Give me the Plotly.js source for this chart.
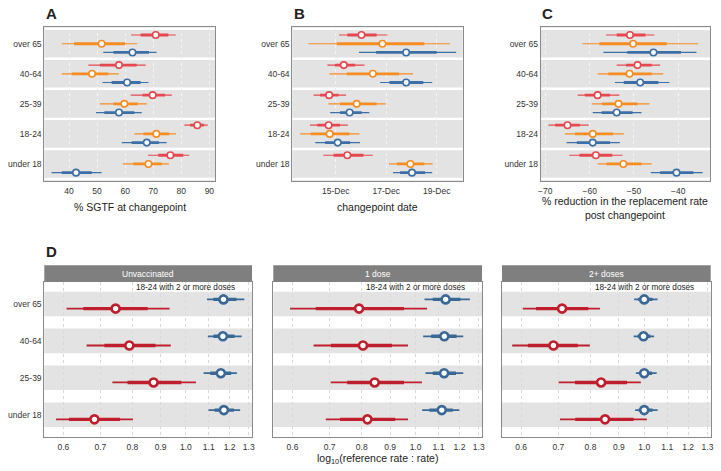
<!DOCTYPE html>
<html><head><meta charset="utf-8">
<script src="https://cdn.plot.ly/plotly-3.0.1.min.js"></script>
<style>html,body{margin:0;padding:0;background:#fff}#chart{width:721px;height:471px}</style>
</head><body><div id="chart"></div>
<script>
// ---------- DATA ----------
// rows: [lower95, lower50, median, upper50, upper95]
const agesTop = ["over 65","40-64","25-39","18-24","under 18"];

const sgtfRed    = [[62.1,65.5,70.9,75.4,78.0],[46.9,51.0,57.8,64.1,67.3],[62.0,66.2,69.8,74.2,76.6],[81.1,83.1,85.7,88.1,89.4],[68.1,71.8,76.1,80.7,82.8]];
const sgtfOrange = [[37.4,41.8,51.6,60.0,64.3],[37.4,41.0,48.2,54.0,57.8],[51.0,55.8,59.7,64.5,67.7],[63.3,66.5,71.1,75.7,78.1],[59.1,62.9,68.3,73.0,75.6]];
const sgtfBlue   = [[52.2,55.8,62.6,68.5,71.2],[51.9,55.2,60.7,65.5,68.3],[49.6,52.6,57.8,63.3,65.9],[58.8,62.3,67.7,72.1,74.8],[33.8,37.4,42.5,48.1,51.6]];
const sgtfTicks  = [40,50,60,70,80,90];

// changepoint date, as day of December
const dateRed    = [[15.13,15.46,16.02,16.62,17.05],[14.67,14.97,15.32,15.77,16.14],[14.12,14.38,14.74,15.11,15.41],[13.98,14.27,14.72,15.17,15.48],[14.51,14.91,15.46,16.10,16.47]];
const dateOrange = [[13.92,15.04,16.85,18.51,19.53],[14.75,15.44,16.47,17.51,18.06],[14.71,15.17,15.83,16.62,16.98],[13.59,14.01,14.76,15.54,15.94],[17.11,17.42,17.96,18.51,18.84]];
const dateBlue   = [[15.92,16.60,17.79,19.00,19.77],[16.76,17.13,17.79,18.47,18.82],[14.78,15.17,15.55,16.03,16.33],[14.19,14.58,15.08,15.57,15.96],[17.27,17.55,18.02,18.54,18.82]];
const dateTickVals = [15,17,19];
const dateTickText = ["15-Dec","17-Dec","19-Dec"];

const redRed    = [[-56.3,-53.9,-50.9,-47.4,-45.4],[-53.9,-51.8,-49.2,-46.0,-44.1],[-62.7,-61.1,-58.2,-55.4,-53.3],[-69.3,-67.8,-65.0,-62.2,-60.2],[-64.6,-62.3,-58.6,-54.9,-52.6]];
const redOrange = [[-61.6,-57.8,-50.2,-42.6,-35.5],[-58.2,-55.8,-51.0,-46.0,-43.4],[-59.5,-57.2,-53.5,-49.2,-46.5],[-65.6,-63.3,-59.3,-54.7,-52.3],[-58.2,-56.2,-52.4,-48.3,-46.0]];
const redBlue   = [[-56.9,-51.5,-45.6,-39.4,-35.9],[-54.3,-52.3,-48.6,-44.5,-42.0],[-59.3,-57.3,-53.9,-50.3,-48.3],[-65.2,-62.9,-59.3,-55.4,-53.2],[-46.2,-44.1,-40.4,-36.6,-34.5]];
const redTicks  = [-70,-60,-50,-40];

const agesD = ["over 65","40-64","25-39","under 18"];
const facetsD = ["Unvaccinated","1 dose","2+ doses"];
const unvaxRed  = [[0.608,0.652,0.746,0.853,0.934],[0.661,0.712,0.790,0.881,0.939],[0.736,0.784,0.874,0.981,1.043],[0.582,0.614,0.683,0.760,0.802]];
const unvaxBlue = [[1.092,1.121,1.170,1.235,1.276],[1.096,1.122,1.167,1.225,1.262],[1.077,1.107,1.157,1.208,1.237],[1.099,1.127,1.172,1.222,1.254]];
const oneRed    = [[0.594,0.661,0.791,0.953,1.049],[0.655,0.704,0.804,0.907,0.969],[0.703,0.753,0.844,0.953,1.027],[0.689,0.731,0.819,0.919,0.969]];
const oneBlue   = [[1.038,1.074,1.133,1.205,1.253],[1.032,1.067,1.127,1.186,1.219],[1.042,1.074,1.126,1.183,1.219],[1.028,1.059,1.115,1.167,1.199]];
const twoRed    = [[0.604,0.638,0.711,0.793,0.832],[0.578,0.617,0.686,0.759,0.798],[0.701,0.750,0.836,0.931,0.986],[0.705,0.751,0.850,0.957,1.011]];
const twoBlue   = [[0.959,0.975,1.000,1.035,1.057],[0.957,0.973,0.997,1.026,1.042],[0.966,0.979,1.000,1.033,1.053],[0.963,0.977,1.000,1.035,1.057]];
const logTicks = [0.6,0.7,0.8,0.9,1.0,1.1,1.2,1.3];
const logTickText = ["0.6","0.7","0.8","0.9","1.0","1.1","1.2","1.3"];

// ---------- STYLE ----------
const FONT = "Liberation Sans, Arial, Helvetica, sans-serif";
const C_RED = "#E5484F", C_ORA = "#F68D22", C_BLU = "#3C6FA6";
const D_RED = "#BE1E2D", D_BLU = "#3A6896";
const W = 721, H = 471;
const px = x => x / W, py = y => 1 - y / H;

const traces = [];
function addSeries(xa, ya, rows, nCat, offset, color, wThin, wThick, msize, mline) {
  const thinX = [], thinY = [], thickX = [], thickY = [], mx = [], my = [];
  rows.forEach((r, i) => {
    const y = nCat - i + offset;
    thinX.push(r[0], r[4], null); thinY.push(y, y, null);
    thickX.push(r[1], r[3], null); thickY.push(y, y, null);
    mx.push(r[2]); my.push(y);
  });
  const common = {xaxis: xa, yaxis: ya, showlegend: false, hoverinfo: "skip"};
  traces.push(Object.assign({type: "scatter", mode: "lines", x: thinX, y: thinY, line: {color, width: wThin}}, common));
  traces.push(Object.assign({type: "scatter", mode: "lines", x: thickX, y: thickY, line: {color, width: wThick}}, common));
  traces.push(Object.assign({type: "scatter", mode: "markers", x: mx, y: my,
    marker: {symbol: "circle", size: msize, color: "#ffffff", line: {color, width: mline}}}, common));
}

const OFF = 0.29;
[["x","y",sgtfRed,sgtfOrange,sgtfBlue],["x2","y2",dateRed,dateOrange,dateBlue],["x3","y3",redRed,redOrange,redBlue]].forEach(p => {
  addSeries(p[0], p[1], p[2], 5,  OFF, C_RED, 1.2, 2.8, 6.5, 1.6);
  addSeries(p[0], p[1], p[3], 5,  0,   C_ORA, 1.2, 2.8, 6.5, 1.6);
  addSeries(p[0], p[1], p[4], 5, -OFF, C_BLU, 1.2, 2.8, 6.5, 1.6);
});
const OFFD = 0.125;
[["x4","y4",unvaxRed,unvaxBlue],["x5","y5",oneRed,oneBlue],["x6","y6",twoRed,twoBlue]].forEach(p => {
  addSeries(p[0], p[1], p[2], 4, -OFFD, D_RED, 1.8, 3.4, 8, 2.6);
  addSeries(p[0], p[1], p[3], 4,  OFFD, D_BLU, 1.8, 3.4, 8, 2.6);
});

// ---------- LAYOUT ----------
const tickFont = {family: FONT, size: 8.5, color: "#333333"};
const yDomTop = [py(181), py(27)];
const yDomD = [py(436.7), py(281.7)];
function xAx(domain, range, tickvals, ticktext, extra) {
  const ax = {domain, range, tickvals, showgrid: true, gridcolor: "#f4f4f4", griddash: "dot", gridwidth: 1,
    zeroline: false, showline: true, mirror: true, linecolor: "#8a8a8a", linewidth: 1, ticks: "", ticklabelstandoff: 2,
    tickfont: tickFont, fixedrange: true};
  if (ticktext) ax.ticktext = ticktext;
  return Object.assign(ax, extra || {});
}
function yAx(anchor, domain, range, tickvals, ticktext, showLabels) {
  return {anchor, domain, range, tickvals, ticktext, showticklabels: showLabels, showgrid: false, zeroline: false,
    showline: true, mirror: true, linecolor: "#8a8a8a", linewidth: 1, ticks: "", tickfont: tickFont, fixedrange: true};
}
const topVals = [5,4,3,2,1];
const dVals = [4,3,2,1];
const logRange = [-0.2564, 0.1198];
const layout = {
  width: W, height: H, margin: {l: 0, r: 0, t: 0, b: 0},
  paper_bgcolor: "#ffffff", plot_bgcolor: "rgba(0,0,0,0)",
  font: {family: FONT, color: "#333333"},
  xaxis:  xAx([px(44.3), px(215)], [31.2, 92], sgtfTicks, null, {anchor: "y"}),
  yaxis:  yAx("x", yDomTop, [0.433, 5.557], topVals, agesTop, true),
  xaxis2: xAx([px(292.3), px(462.7)], [13.28, 20.03], dateTickVals, dateTickText, {anchor: "y2"}),
  yaxis2: yAx("x2", yDomTop, [0.433, 5.557], topVals, agesTop, true),
  xaxis3: xAx([px(540.7), px(710)], [-71.04, -32.85], redTicks, null, {anchor: "y3"}),
  yaxis3: yAx("x3", yDomTop, [0.433, 5.557], topVals, agesTop, true),
  xaxis4: xAx([px(44.3), px(252)], logRange, logTicks, logTickText, {anchor: "y4", type: "log", gridcolor: "#d9d9d9"}),
  yaxis4: yAx("x4", yDomD, [0.405, 4.604], dVals, agesD, true),
  xaxis5: xAx([px(273.3), px(482)], logRange, logTicks, logTickText, {anchor: "y5", type: "log", gridcolor: "#d9d9d9"}),
  yaxis5: yAx("x5", yDomD, [0.405, 4.604], dVals, agesD, false),
  xaxis6: xAx([px(502), px(710.7)], logRange, logTicks, logTickText, {anchor: "y6", type: "log", gridcolor: "#d9d9d9"}),
  yaxis6: yAx("x6", yDomD, [0.405, 4.604], dVals, agesD, false),
  shapes: [], annotations: []
};

// panel backgrounds A-C: grey panel with white separators between age groups
["", "2", "3"].forEach(s => {
  layout.shapes.push({type: "rect", layer: "below", xref: "x" + s + " domain", yref: "y" + s,
    x0: 0, x1: 1, y0: 0.433, y1: 5.557, fillcolor: "#e3e3e3", line: {width: 0}});
  [0.5,1.5,2.5,3.5,4.5,5.5].forEach(v => layout.shapes.push({type: "line", layer: "below", xref: "x" + s + " domain", yref: "y" + s,
    x0: 0, x1: 1, y0: v, y1: v, line: {color: "#ffffff", width: 2.4}}));
});
// panel D: grey bands, strips, reference line
["4","5","6"].forEach((s, k) => {
  dVals.forEach(v => layout.shapes.push({type: "rect", layer: "below", xref: "x" + s + " domain", yref: "y" + s,
    x0: 0, x1: 1, y0: v - 0.333, y1: v + 0.333, fillcolor: "#e3e3e3", line: {width: 0}}));
  layout.shapes.push({type: "rect", xref: "x" + s + " domain", yref: "paper",
    x0: 0, x1: 1, y0: py(281.7), y1: py(265.3), fillcolor: "#7f7f7f", line: {width: 0}});
  layout.shapes.push({type: "line", layer: "between", xref: "x" + s, yref: "y" + s,
    x0: 0, x1: 0, y0: 0.405, y1: 4.34, line: {color: "#3a3a3a", width: 1.1}});
  layout.annotations.push({xref: "x" + s + " domain", yref: "paper", x: 0.5, y: py(273.5), text: facetsD[k],
    showarrow: false, font: {family: FONT, size: 8.5, color: "#ffffff"}, xanchor: "center", yanchor: "middle"});
  layout.annotations.push({xref: "x" + s, yref: "paper", x: 0, y: py(287.3), text: "18-24 with 2 or more doses",
    showarrow: false, font: {family: FONT, size: 8.2, color: "#222222"}, xanchor: "center", yanchor: "middle"});
});

// panel letters
[["A",44,14],["B",292,14],["C",540,14],["D",44,251]].forEach(a => layout.annotations.push({
  xref: "paper", yref: "paper", x: px(a[1]), y: py(a[2]), text: "<b>" + a[0] + "</b>", showarrow: false,
  xanchor: "left", yanchor: "middle", font: {family: FONT, size: 15, color: "#222222"}}));

// axis titles
const titleFont = {family: FONT, size: 10.5, color: "#222222"};
[["% SGTF at changepoint", (44.3+215)/2, 207],
 ["changepoint date", (292.3+462.7)/2, 207],
 ["% reduction in the replacement rate<br>post changepoint", (540.7+710)/2, 208],
 ["log<sub>10</sub>(reference rate : rate)", (273.3+482)/2, 459]].forEach(t => layout.annotations.push({
  xref: "paper", yref: "paper", x: px(t[1]), y: py(t[2]), text: t[0], showarrow: false,
  xanchor: "center", yanchor: "middle", font: titleFont}));

Plotly.newPlot("chart", traces, layout, {staticPlot: true, displayModeBar: false});
</script>
</body></html>
